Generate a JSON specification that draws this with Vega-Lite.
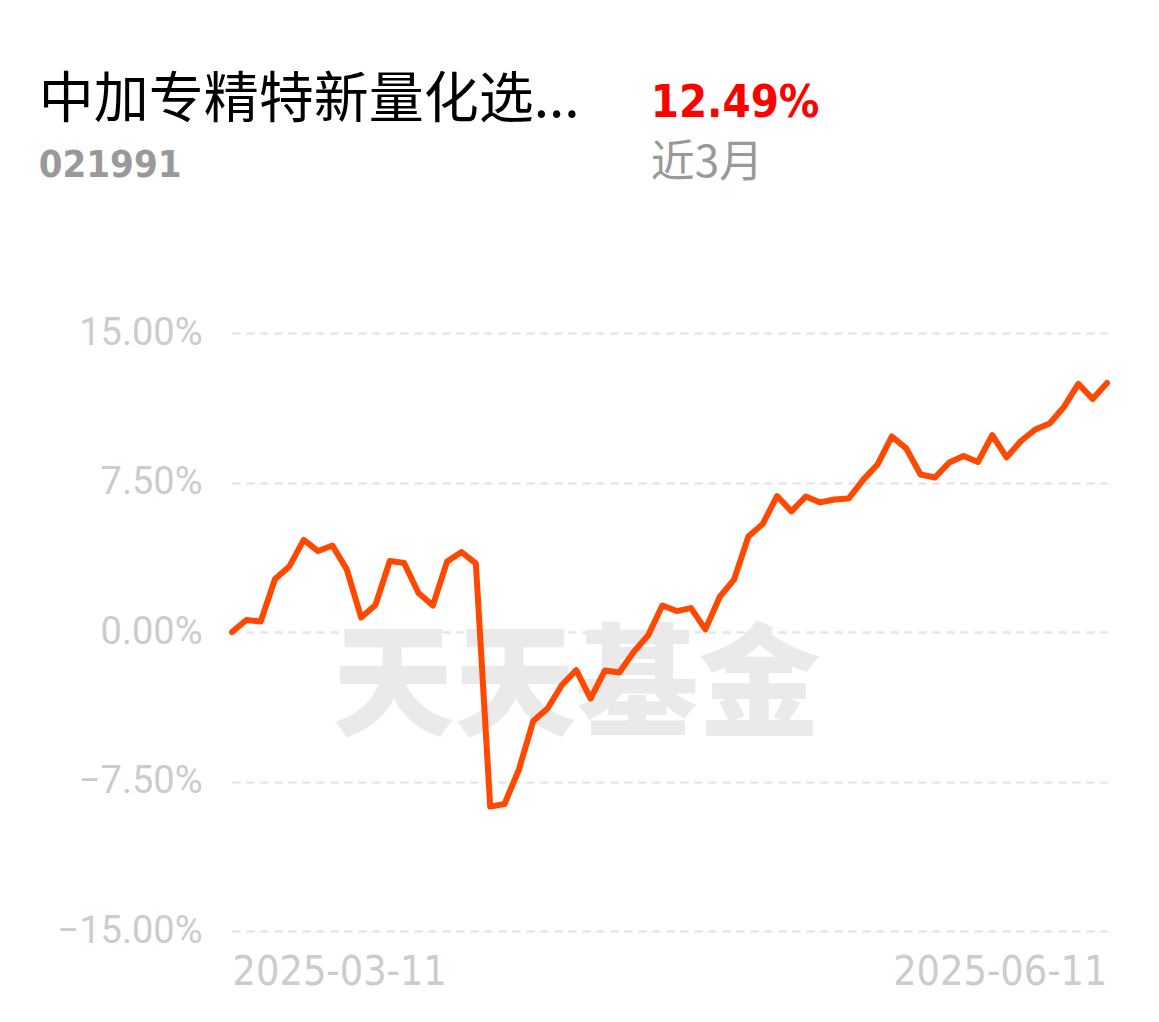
{
  "$schema": "https://vega.github.io/schema/vega-lite/v6.json",
  "background": "white",
  "padding": {"left": 38, "top": 72, "right": 10, "bottom": 10},
  "config": {"view": {"stroke": null}},
  "datasets": {
    "nav": [
      {"date": "2025-03-11", "pct": 0.00},
      {"date": "2025-03-12", "pct": 0.60},
      {"date": "2025-03-13", "pct": 0.53},
      {"date": "2025-03-14", "pct": 2.66},
      {"date": "2025-03-17", "pct": 3.29},
      {"date": "2025-03-18", "pct": 4.62},
      {"date": "2025-03-19", "pct": 4.06},
      {"date": "2025-03-20", "pct": 4.34},
      {"date": "2025-03-21", "pct": 3.14},
      {"date": "2025-03-24", "pct": 0.73},
      {"date": "2025-03-25", "pct": 1.35},
      {"date": "2025-03-26", "pct": 3.56},
      {"date": "2025-03-27", "pct": 3.46},
      {"date": "2025-03-28", "pct": 1.96},
      {"date": "2025-03-31", "pct": 1.33},
      {"date": "2025-04-01", "pct": 3.54},
      {"date": "2025-04-02", "pct": 4.01},
      {"date": "2025-04-03", "pct": 3.44},
      {"date": "2025-04-07", "pct": -8.76},
      {"date": "2025-04-08", "pct": -8.63},
      {"date": "2025-04-09", "pct": -6.90},
      {"date": "2025-04-10", "pct": -4.47},
      {"date": "2025-04-11", "pct": -3.84},
      {"date": "2025-04-14", "pct": -2.66},
      {"date": "2025-04-15", "pct": -1.91},
      {"date": "2025-04-16", "pct": -3.34},
      {"date": "2025-04-17", "pct": -1.93},
      {"date": "2025-04-18", "pct": -2.03},
      {"date": "2025-04-21", "pct": -1.00},
      {"date": "2025-04-22", "pct": -0.18},
      {"date": "2025-04-23", "pct": 1.33},
      {"date": "2025-04-24", "pct": 1.05},
      {"date": "2025-04-25", "pct": 1.20},
      {"date": "2025-04-28", "pct": 0.13},
      {"date": "2025-04-29", "pct": 1.76},
      {"date": "2025-04-30", "pct": 2.63},
      {"date": "2025-05-06", "pct": 4.79},
      {"date": "2025-05-07", "pct": 5.42},
      {"date": "2025-05-08", "pct": 6.82},
      {"date": "2025-05-09", "pct": 6.05},
      {"date": "2025-05-12", "pct": 6.80},
      {"date": "2025-05-13", "pct": 6.50},
      {"date": "2025-05-14", "pct": 6.65},
      {"date": "2025-05-15", "pct": 6.70},
      {"date": "2025-05-16", "pct": 7.63},
      {"date": "2025-05-19", "pct": 8.40},
      {"date": "2025-05-20", "pct": 9.81},
      {"date": "2025-05-21", "pct": 9.21},
      {"date": "2025-05-22", "pct": 7.90},
      {"date": "2025-05-23", "pct": 7.75},
      {"date": "2025-05-26", "pct": 8.50},
      {"date": "2025-05-27", "pct": 8.83},
      {"date": "2025-05-28", "pct": 8.53},
      {"date": "2025-05-29", "pct": 9.88},
      {"date": "2025-05-30", "pct": 8.76},
      {"date": "2025-06-03", "pct": 9.58},
      {"date": "2025-06-04", "pct": 10.16},
      {"date": "2025-06-05", "pct": 10.46},
      {"date": "2025-06-06", "pct": 11.29},
      {"date": "2025-06-09", "pct": 12.45},
      {"date": "2025-06-10", "pct": 11.69},
      {"date": "2025-06-11", "pct": 12.49}
    ]
  },
  "spacing": 122,
  "vconcat": [
    {
      "spacing": 70,
      "hconcat": [
        {
          "title": {
            "text": "中加专精特新量化选...",
            "subtitle": "021991",
            "anchor": "start",
            "dx": -191,
            "font": "Noto Sans CJK SC",
            "fontSize": 55,
            "fontWeight": "normal",
            "color": "#000000",
            "subtitleFont": "DejaVu Sans Condensed",
            "subtitleFontSize": 38,
            "subtitleFontWeight": "bold",
            "subtitleColor": "#999999",
            "subtitlePadding": 18,
            "offset": 0
          },
          "data": {"values": [{"k": 0}]},
          "mark": {"type": "point", "opacity": 0},
          "width": 1,
          "height": 1
        },
        {
          "title": {
            "text": "12.49%",
            "subtitle": "近3月",
            "anchor": "start",
            "dx": -191,
            "font": "DejaVu Sans Condensed",
            "fontSize": 45,
            "fontWeight": "bold",
            "color": "#ff0000",
            "subtitleFont": "Noto Sans CJK SC",
            "subtitleFontSize": 44,
            "subtitleFontWeight": "normal",
            "subtitleColor": "#999999",
            "subtitlePadding": 16,
            "offset": 0
          },
          "data": {"values": [{"k": 0}]},
          "mark": {"type": "point", "opacity": 0},
          "width": 1,
          "height": 1
        }
      ]
    },
    {
      "width": 875,
      "height": 598,
      "data": {"name": "nav"},
      "encoding": {
        "x": {
          "field": "date",
          "type": "ordinal",
          "scale": {"type": "point", "padding": 0},
          "axis": {
            "values": ["2025-03-11", "2025-06-11"],
            "title": null,
            "domain": false,
            "ticks": false,
            "grid": false,
            "labelAngle": 0,
            "labelFlush": true,
            "labelLimit": 0,
            "labelFont": "DejaVu Sans Condensed",
            "labelFontSize": 41,
            "labelColor": "#cccccc",
            "labelPadding": 21
          }
        },
        "y": {
          "field": "pct",
          "type": "quantitative",
          "scale": {"domain": [-15, 15], "nice": false, "zero": false},
          "axis": {
            "values": [-15, -7.5, 0, 7.5, 15],
            "title": null,
            "domain": false,
            "ticks": false,
            "labelExpr": "format(datum.value, '.2f') + '%'",
            "labelFont": "Roboto",
            "labelFontSize": 38,
            "labelColor": "#cccccc",
            "labelPadding": 30,
            "grid": true,
            "gridColor": "#e6e6e6",
            "gridDash": [8, 6],
            "gridWidth": 2.5
          }
        }
      },
      "layer": [
        {
          "data": {"values": [{"date": "2025-04-15", "pct": -2.85, "wm": "天天基金"}]},
          "mark": {"type": "text", "font": "Noto Sans CJK SC", "fontSize": 122, "fontWeight": 900, "color": "#eaeaea", "baseline": "middle", "align": "center"},
          "encoding": {"text": {"field": "wm"}}
        },
        {
          "mark": {"type": "line", "color": "#ff4800", "strokeWidth": 6, "strokeJoin": "round", "strokeCap": "round"}
        }
      ]
    }
  ]
}
